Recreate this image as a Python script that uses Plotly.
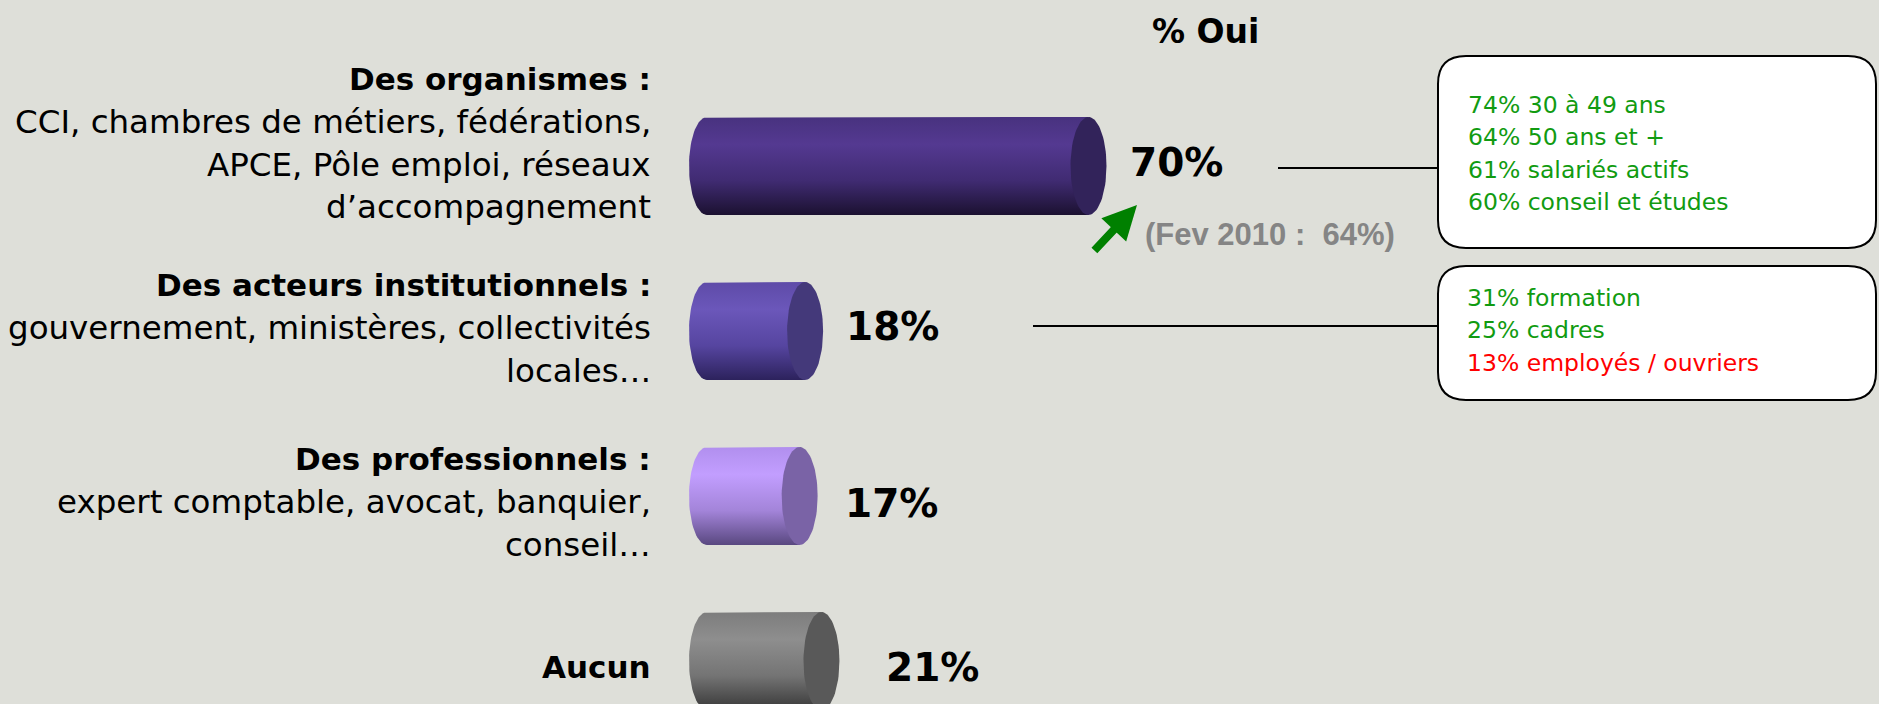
import numpy as np
import plotly.graph_objects as go

W, H = 1879, 704

# ---- data ----
categories = ["Des organismes :", "Des acteurs institutionnels :", "Des professionnels :", "Aucun"]
details = [
    ["CCI, chambres de métiers, fédérations,", "APCE, Pôle emploi, réseaux", "d’accompagnement"],
    ["gouvernement, ministères, collectivités", "locales…"],
    ["expert comptable, avocat, banquier,", "conseil…"],
    [],
]
values = [70, 18, 17, 21]
title_text = "% Oui"
feb2010_text = "(Fev 2010 :  64%)"
box1_lines = ["74% 30 à 49 ans", "64% 50 ans et +", "61% salariés actifs", "60% conseil et études"]
box2_lines = ["31% formation", "25% cadres", "13% employés / ouvriers"]
box2_negative = [False, False, True]

# ---- styles ----
BG = "#DEDFD9"
GREEN = "#119B11"
RED = "#FF0000"
FONT = "DejaVu Sans"
bar_styles = [
    dict(top="#48327F", light="#543991", mid="#402B72", dark="#1B1130", cap="#32235A"),
    dict(top="#5E4BA8", light="#6B57BA", mid="#5645A0", dark="#2C225C", cap="#44397A"),
    dict(top="#B18FEE", light="#C29EFF", mid="#A384D9", dark="#594880", cap="#7A63A6"),
    dict(top="#7D7D7D", light="#8E8E8E", mid="#747474", dark="#383838", cap="#595959"),
]
label_gap_px = [21, 21, 25, 45]
label_dy_px = [-4, -5, 7, 6]
text_block_dy = [-23, -3, 6, 6]
LINE_STEP = 43

X0_PX = 707          # pixel where 0 % sits
PX_PER_PCT = 5.45
ROW0_PX = 166
ROW_STEP_PX = 165
HALF = 49 / ROW_STEP_PX
RX = 18 / PX_PER_PCT


def px(x):
    return x / W


def py(y):
    return 1 - y / H


fig = go.Figure()

phi = np.linspace(0, np.pi, 40)
theta = np.linspace(0, 2 * np.pi, 80)
for i, (v, st) in enumerate(zip(values, bar_styles)):
    # body: flat top/bottom, rounded left end
    bx = np.concatenate([[v], -RX * np.sin(phi), [v]])
    by = np.concatenate([[i - HALF], i - HALF * np.cos(phi), [i + HALF]])
    fig.add_trace(go.Scatter(
        x=bx, y=by, mode="lines", fill="toself", line=dict(width=0),
        fillgradient=dict(type="vertical", start=i - HALF, stop=i + HALF,
                          colorscale=[[0, st["top"]], [0.28, st["light"]],
                                      [0.65, st["mid"]], [1, st["dark"]]]),
        hoverinfo="skip", showlegend=False))
    # end cap
    fig.add_trace(go.Scatter(
        x=v + RX * np.cos(theta), y=i + HALF * np.sin(theta), mode="lines",
        fill="toself", fillcolor=st["cap"], line=dict(width=0),
        hoverinfo="skip", showlegend=False))
    fig.add_annotation(
        x=v + RX + label_gap_px[i] / PX_PER_PCT, y=i + label_dy_px[i] / ROW_STEP_PX,
        xref="x", yref="y", text=f"<b>{v}%</b>", showarrow=False,
        xanchor="left", yanchor="middle",
        font=dict(family=FONT, size=39, color="black"))

# left-hand category labels
for i, (cat, det) in enumerate(zip(categories, details)):
    lines = [(f"<b>{cat}</b>", 31)] + [(d, 32.5) for d in det]
    yc = ROW0_PX + ROW_STEP_PX * i + text_block_dy[i]
    y_start = yc - LINE_STEP * (len(lines) - 1) / 2
    for k, (ln, size) in enumerate(lines):
        fig.add_annotation(
            x=px(653), y=py(y_start + LINE_STEP * k), xref="paper", yref="paper",
            text=ln, showarrow=False, xanchor="right", yanchor="middle",
            font=dict(family=FONT, size=size, color="black"))

fig.add_annotation(x=px(1205), y=py(32), xref="paper", yref="paper",
                   text=f"<b>{title_text}</b>", showarrow=False,
                   xanchor="center", yanchor="middle",
                   font=dict(family=FONT, size=33, color="black"))

# evolution arrow + previous value
fig.add_annotation(x=px(1137), y=py(205), xref="paper", yref="paper", text="",
                   showarrow=True, ax=-44, ay=47, arrowcolor="#008000",
                   arrowwidth=8, arrowhead=2, arrowsize=0.85)
fig.add_annotation(x=px(1143), y=py(234), xref="paper", yref="paper",
                   text=f"<b>{feb2010_text}</b>", showarrow=False,
                   xanchor="left", yanchor="middle",
                   font=dict(family="Liberation Sans", size=31, color="#858585"))


def rounded_box(x0, y0, x1, y1, r):
    p = [f"M{px(x0 + r)},{py(y0)}", f"L{px(x1 - r)},{py(y0)}",
         f"Q{px(x1)},{py(y0)} {px(x1)},{py(y0 + r)}", f"L{px(x1)},{py(y1 - r)}",
         f"Q{px(x1)},{py(y1)} {px(x1 - r)},{py(y1)}", f"L{px(x0 + r)},{py(y1)}",
         f"Q{px(x0)},{py(y1)} {px(x0)},{py(y1 - r)}", f"L{px(x0)},{py(y0 + r)}",
         f"Q{px(x0)},{py(y0)} {px(x0 + r)},{py(y0)}", "Z"]
    return " ".join(p)


for (x0, y0, x1, y1) in [(1438, 56, 1876, 248), (1438, 266, 1876, 400)]:
    fig.add_shape(type="path", path=rounded_box(x0, y0, x1, y1, 28),
                  xref="paper", yref="paper", fillcolor="white",
                  line=dict(color="black", width=2))

fig.add_shape(type="line", x0=px(1278), x1=px(1438), y0=py(168), y1=py(168),
              xref="paper", yref="paper", line=dict(color="black", width=2))
fig.add_shape(type="line", x0=px(1033), x1=px(1438), y0=py(326), y1=py(326),
              xref="paper", yref="paper", line=dict(color="black", width=2))

for k, ln in enumerate(box1_lines):
    fig.add_annotation(x=px(1466), y=py(105 + 32.3 * k), xref="paper", yref="paper",
                       text=ln, showarrow=False, xanchor="left", yanchor="middle",
                       font=dict(family=FONT, size=23.5, color=GREEN))
for k, (ln, neg) in enumerate(zip(box2_lines, box2_negative)):
    fig.add_annotation(x=px(1465), y=py(298 + 32.3 * k), xref="paper", yref="paper",
                       text=ln, showarrow=False, xanchor="left", yanchor="middle",
                       font=dict(family=FONT, size=23.5, color=RED if neg else GREEN))

fig.update_xaxes(range=[-X0_PX / PX_PER_PCT, (W - X0_PX) / PX_PER_PCT],
                 visible=False, fixedrange=True)
fig.update_yaxes(range=[(H - ROW0_PX) / ROW_STEP_PX, -ROW0_PX / ROW_STEP_PX],
                 visible=False, fixedrange=True)
fig.update_layout(width=W, height=H, margin=dict(l=0, r=0, t=0, b=0),
                  paper_bgcolor=BG, plot_bgcolor=BG, showlegend=False)

fig.write_html("out.html", config={"displayModeBar": False},
               post_script="document.body.style.margin='0';")
